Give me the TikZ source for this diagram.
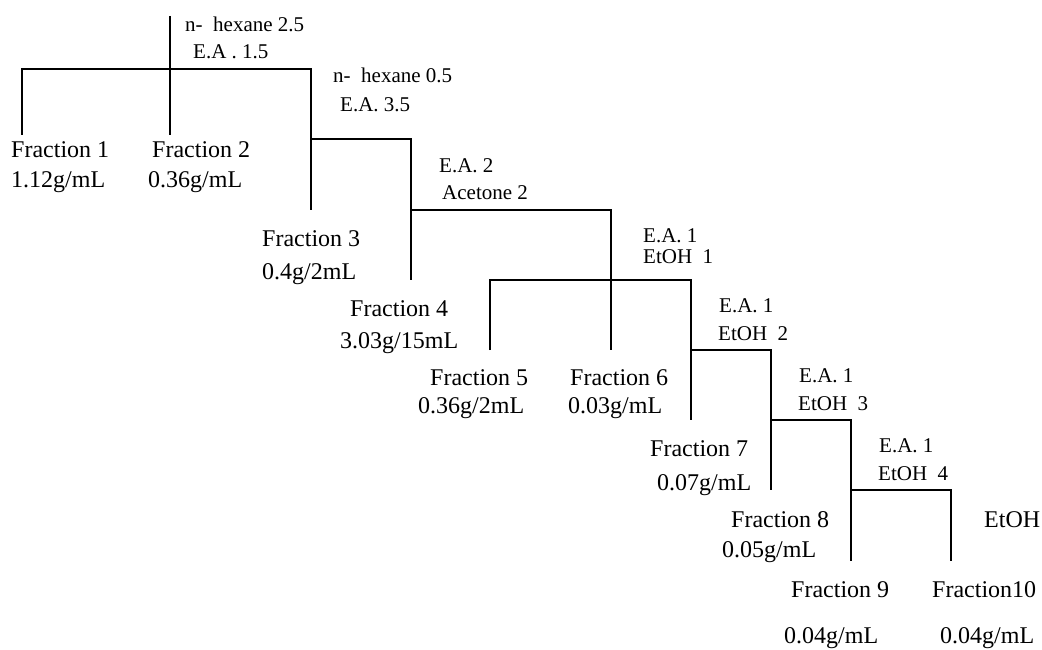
\documentclass[tikz,border=0pt]{standalone}
\usepackage{fontspec}
\setmainfont{Liberation Serif}
\begin{document}
\begin{tikzpicture}[x=1pt,y=-1pt,
  link/.style={draw=black,line width=1.8pt},
  frac/.style={anchor=base west,inner sep=0pt,font=\fontsize{24}{28}\selectfont},
  solv/.style={anchor=base west,inner sep=0pt,font=\fontsize{21}{25}\selectfont}]
\useasboundingbox[fill=white] (0,0) rectangle (1042,650);
% solvent labels
\node[solv] (s1a) at (185,32) {n-\ \ hexane 2.5};
\node[solv] (s1b) at (193,59) {E.A . 1.5};
\node[solv] (s2a) at (333,83) {n-\ \ hexane 0.5};
\node[solv] (s2b) at (340,112) {E.A. 3.5};
\node[solv] (s3a) at (439,172) {E.A. 2};
\node[solv] (s3b) at (442,200) {Acetone 2};
\node[solv] (s4a) at (643,242) {E.A. 1};
\node[solv] (s4b) at (643,263) {EtOH\ \ 1};
\node[solv] (s5a) at (719,312) {E.A. 1};
\node[solv] (s5b) at (718,340) {EtOH\ \ 2};
\node[solv] (s6a) at (799,382) {E.A. 1};
\node[solv] (s6b) at (798,410) {EtOH\ \ 3};
\node[solv] (s7a) at (879,452) {E.A. 1};
\node[solv] (s7b) at (878,480) {EtOH\ \ 4};
\node[frac] (s8) at (984,527) {EtOH};
% fractions
\node[frac] (f1) at (11,158) {Fraction 1};
\node[frac] (w1) at (11,188) {1.12g/mL};
\node[frac] (f2) at (152,158) {Fraction 2};
\node[frac] (w2) at (148,188) {0.36g/mL};
\node[frac] (f3) at (262,246) {Fraction 3};
\node[frac] (w3) at (262,279) {0.4g/2mL};
\node[frac] (f4) at (350,316) {Fraction 4};
\node[frac] (w4) at (340,348) {3.03g/15mL};
\node[frac] (f5) at (430,385) {Fraction 5};
\node[frac] (w5) at (418,413) {0.36g/2mL};
\node[frac] (f6) at (570,385) {Fraction 6};
\node[frac] (w6) at (568,413) {0.03g/mL};
\node[frac] (f7) at (650,456) {Fraction 7};
\node[frac] (w7) at (657,490) {0.07g/mL};
\node[frac] (f8) at (731,527) {Fraction 8};
\node[frac] (w8) at (722,557) {0.05g/mL};
\node[frac] (f9) at (791,597) {Fraction 9};
\node[frac] (w9) at (784,643) {0.04g/mL};
\node[frac] (f10) at (932,597) {Fraction10};
\node[frac] (w10) at (940,643) {0.04g/mL};
% junction coordinates
\coordinate (top) at (170,16);
\coordinate (b1l) at (22,69);
\coordinate (b1r) at (311,69);
\coordinate (e1) at (22,135);
\coordinate (e2) at (170,135);
\coordinate (e3) at (311,210);
\coordinate (b2l) at (311,139);
\coordinate (b2r) at (411,139);
\coordinate (e4) at (411,280);
\coordinate (b3l) at (411,210);
\coordinate (b3r) at (611,210);
\coordinate (e6) at (611,350);
\coordinate (e5) at (490,350);
\coordinate (b4l) at (490,280);
\coordinate (b4r) at (691,280);
\coordinate (e7) at (691,420);
\coordinate (b5l) at (691,350);
\coordinate (b5r) at (771,350);
\coordinate (e8) at (771,490);
\coordinate (b6l) at (771,420);
\coordinate (b6r) at (851,420);
\coordinate (e9) at (851,561);
\coordinate (b7l) at (851,490);
\coordinate (b7r) at (951,490);
\coordinate (e10) at (951,561);
% connectors
\draw[link] (top) -- (e2);
\draw[link] (e1) -- (b1l) -- (b1r) -- (e3);
\draw[link] (b2l) -- (b2r) -- (e4);
\draw[link] (b3l) -- (b3r) -- (e6);
\draw[link] (e5) -- (b4l) -- (b4r) -- (e7);
\draw[link] (b5l) -- (b5r) -- (e8);
\draw[link] (b6l) -- (b6r) -- (e9);
\draw[link] (b7l) -- (b7r) -- (e10);
\end{tikzpicture}
\end{document}
